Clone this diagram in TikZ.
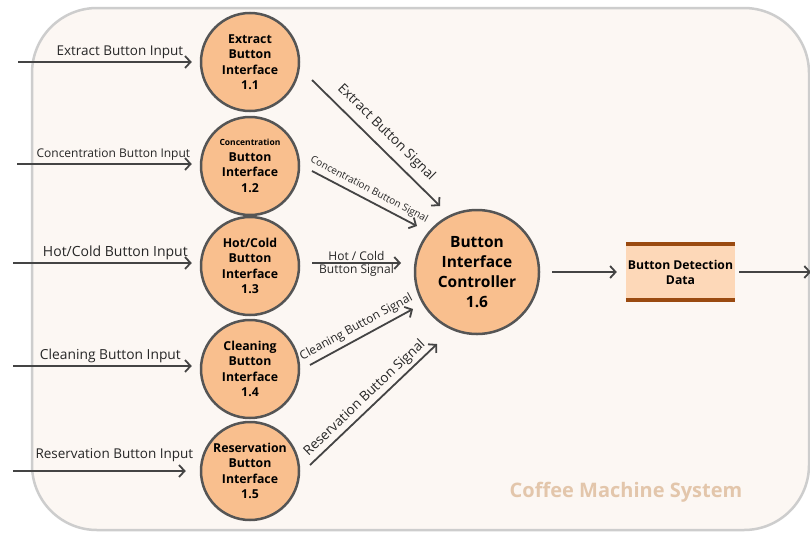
\documentclass[tikz,border=0pt]{standalone}
\usepackage{fontspec}
\setmainfont{Open Sans}
\usetikzlibrary{arrows.meta,calc}
\definecolor{bgfill}{HTML}{FCF7F3}
\definecolor{bordergray}{HTML}{CDCDCD}
\definecolor{procfill}{HTML}{F9BF8E}
\definecolor{procline}{HTML}{555555}
\definecolor{arrowgray}{HTML}{444444}
\definecolor{storefill}{HTML}{FDD8B8}
\definecolor{storeline}{HTML}{9A4A10}
\definecolor{titlecol}{HTML}{E3C6AB}
\tikzset{
  proc/.style={circle, draw=procline, line width=2.5pt, fill=procfill, minimum size=98pt, inner sep=0pt, align=center, font=\bfseries\fontsize{12.3}{15.5}\selectfont},
  ctrlproc/.style={proc, minimum size=124pt, font=\bfseries\fontsize{15.5}{20}\selectfont},
  flow/.style={draw=arrowgray, line width=1.8pt, -{Straight Barb[length=5.5pt,width=12pt]}},
  lbl/.style={font=\fontsize{13.5}{15}\selectfont, text=black!85, inner sep=0pt},
  mlbl/.style={font=\fontsize{12}{14}\selectfont, text=black!85, inner sep=0pt},
  slbl/.style={font=\fontsize{10}{12}\selectfont, text=black!85, inner sep=0pt},
  store/.style={rectangle, fill=storefill, minimum width=109pt, minimum height=56pt, align=center, inner sep=0pt, font=\bfseries\fontsize{12.2}{15}\selectfont},
}
\begin{document}
\begin{tikzpicture}[x=1pt,y=-1pt]
\useasboundingbox (0,0) rectangle (810,533);
\fill[white] (0,0) rectangle (810,533);
\draw[line width=2.5pt, draw=bordergray, fill=bgfill, rounded corners=65pt] (32,8) rectangle (809,530);
\node[font=\bfseries\fontsize{20}{22}\selectfont, text=titlecol] (title) at (626,492) {Coffee Machine System};

\node[proc] (p1) at (250,62) {Extract\\Button\\Interface\\1.1};
\node[proc] (p2) at (250,166) {{\fontsize{8.5}{11}\selectfont Concentration}\\Button\\Interface\\1.2};
\node[proc] (p3) at (250,266) {Hot/Cold\\Button\\Interface\\1.3};
\node[proc] (p4) at (250,369) {Cleaning\\Button\\Interface\\1.4};
\node[proc] (p5) at (250,471) {Reservation\\Button\\Interface\\1.5};
\node[ctrlproc] (ctrl) at (477,272) {Button\\Interface\\Controller\\1.6};
\node[store] (data) at (680.5,272) {Button Detection\\Data};
\draw[storeline, line width=4pt] (data.north west) -- (data.north east);
\draw[storeline, line width=4pt] (data.south west) -- (data.south east);

\coordinate (in1) at (18,62);
\coordinate (in2) at (17,164);
\coordinate (in3) at (13,263);
\coordinate (in4) at (13,366);
\coordinate (in5) at (13,471);
\coordinate (out) at (811,272);

\draw[flow, shorten >=8pt] (in1) -- node[lbl, above=2pt, xshift=11pt] {Extract Button Input} (p1);
\draw[flow, shorten >=8pt] (in2) -- node[mlbl, above=3pt, xshift=5pt] {Concentration Button Input} ($(p2.west)+(0,-2)$);
\draw[flow, shorten >=8pt] (in3) -- node[lbl, above=2pt, xshift=9pt, font=\fontsize{14}{15}\selectfont] {Hot/Cold Button Input} ($(p3.west)+(0,-3)$);
\draw[flow, shorten >=8pt] (in4) -- node[lbl, above=2pt, xshift=4pt, font=\fontsize{13.8}{15}\selectfont] {Cleaning Button Input} ($(p4.west)+(0,-3)$);
\draw[flow, shorten >=14pt] (in5) -- node[lbl, above=8pt, xshift=8pt] {Reservation Button Input} (p5);

\draw[flow] ($(p1)+(62,18)$) -- node[lbl, sloped, above=7pt] {Extract Button Signal} ($(ctrl)+(-37,-66)$);
\draw[flow] ($(p2)+(62,5)$) -- node[slbl, sloped, above=4pt] {Concentration Button Signal} ($(ctrl)+(-60,-46)$);
\draw[flow] ($(p3)+(62,-3)$) -- node[mlbl, above=1pt] {Hot / Cold} node[mlbl, below=0pt] {Button Signal} ($(ctrl)+(-76,-9)$);
\draw[flow] ($(p4)+(60,-4)$) -- node[mlbl, sloped, above=4pt] {Cleaning Button Signal} ($(ctrl)+(-64,37)$);
\draw[flow] ($(p5)+(60,-6)$) -- node[lbl, sloped, above=3pt, xshift=-2pt] {Reservation Button Signal} ($(ctrl)+(-40,72)$);

\draw[flow, shorten <=12pt, shorten >=9pt] (ctrl) -- (data);
\draw[flow, shorten <=4pt] (data) -- (out);
\end{tikzpicture}
\end{document}
